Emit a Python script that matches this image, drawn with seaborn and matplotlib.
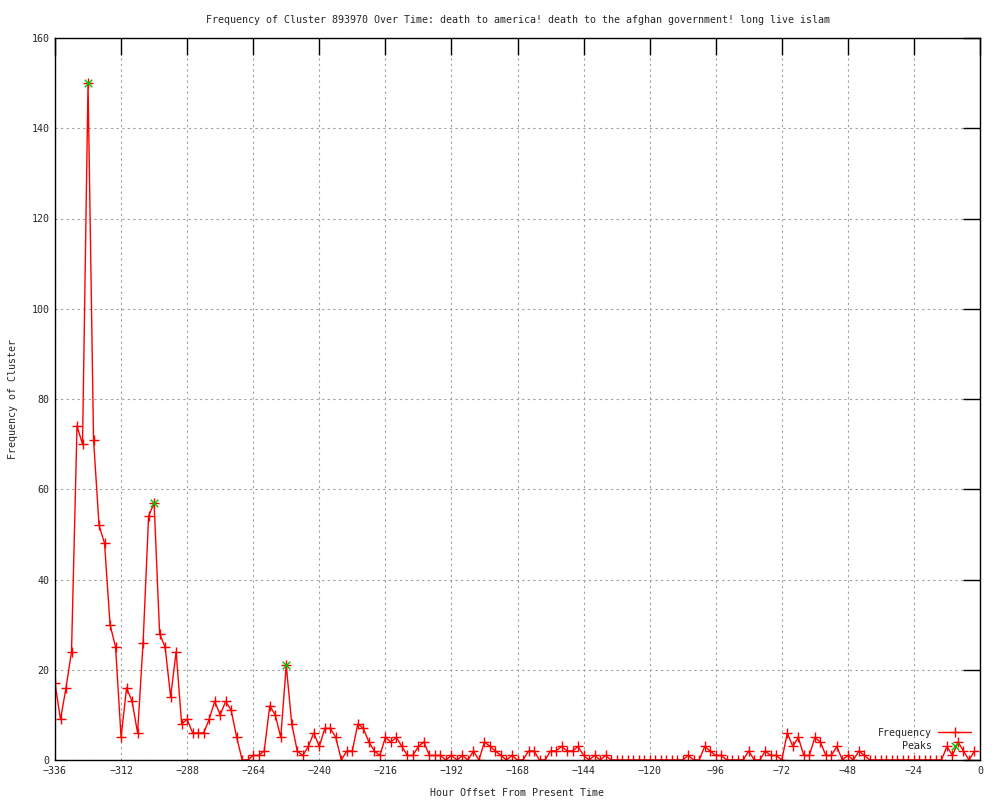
import numpy as np
import pandas as pd
import seaborn as sns
import matplotlib.pyplot as plt

# hour offsets (every 2 hours) and cluster frequency
hours = list(range(-336, 0, 2))
frequency = [
    17, 9, 16, 24, 74, 70, 150, 71, 52, 48, 30, 25,   # -336 .. -314
    5, 16, 13, 6, 26, 54, 57, 28, 25, 14, 24, 8,      # -312 .. -290
    9, 6, 6, 6, 9, 13, 10, 13, 11, 5, 0, 0,           # -288 .. -266
    1, 1, 2, 12, 10, 5, 21, 8, 2, 1, 3, 6,            # -264 .. -242
    3, 7, 7, 5, 0, 2, 2, 8, 7, 4, 2, 1,               # -240 .. -218
    5, 4, 5, 3, 1, 1, 3, 4, 1, 1, 1, 0,               # -216 .. -194
    1, 0, 1, 0, 2, 0, 4, 3, 2, 1, 0, 1,               # -192 .. -170
    0, 0, 2, 2, 0, 0, 2, 2, 3, 2, 2, 3,               # -168 .. -146
    1, 0, 1, 0, 1, 0, 0, 0, 0, 0, 0, 0,               # -144 .. -122
    0, 0, 0, 0, 0, 0, 0, 1, 0, 0, 3, 2,               # -120 .. -98
    1, 1, 0, 0, 0, 0, 2, 0, 0, 2, 1, 1,               # -96 .. -74
    0, 6, 3, 5, 1, 1, 5, 4, 1, 1, 3, 0,               # -72 .. -50
    1, 0, 2, 1, 0, 0, 0, 0, 0, 0, 0, 0,               # -48 .. -26
    0, 0, 0, 0, 0, 0, 3, 1, 4, 2, 0, 2,               # -24 .. -2
]
peak_hours = [-324, -300, -252]
peak_values = [150, 57, 21]

df = pd.DataFrame({"Hour": hours, "Frequency": frequency})
peaks = pd.DataFrame({"Hour": peak_hours, "Frequency": peak_values})

sns.set_style("white")
plt.rcParams["font.family"] = ["DejaVu Sans Mono"]
plt.rcParams["font.size"] = 7.2

fig = plt.figure(figsize=(10, 8), dpi=100)
ax = fig.add_axes([0.055, 0.05, 0.925, 0.9025])

sns.lineplot(data=df, x="Hour", y="Frequency", ax=ax, color="red", lw=1.0,
             marker="+", markersize=7, markeredgewidth=1.0,
             markeredgecolor="red", label="Frequency")
sns.scatterplot(data=peaks, x="Hour", y="Frequency", ax=ax, color="#00c000",
                marker="x", s=30, linewidth=1.0, label="Peaks", zorder=3)

ax.set_xlim(-336, 0)
ax.set_ylim(0, 160)
ax.set_xticks(range(-336, 1, 24))
ax.set_yticks(range(0, 161, 20))

ax.grid(True, color="#a0a0a0", linestyle=(0, (2, 3)), lw=0.8)
ax.tick_params(direction="in", length=12, width=1, color="black",
               top=True, right=True, labelsize=7.2, pad=4)
for s in ax.spines.values():
    s.set_color("black")
    s.set_linewidth(1)

ax.set_title("Frequency of Cluster 893970 Over Time: death to america! death to the afghan government! long live islam",
             fontsize=7.2, pad=11)
ax.set_xlabel("Hour Offset From Present Time", fontsize=7.2, labelpad=9)
ax.set_ylabel("Frequency of Cluster", fontsize=7.2, labelpad=10)

ax.legend(loc="lower right", frameon=False, markerfirst=False, fontsize=7.2,
          handlelength=3.3, borderaxespad=0.5, labelspacing=0.35,
          handletextpad=0.6)

plt.savefig("out.png", dpi=100)
